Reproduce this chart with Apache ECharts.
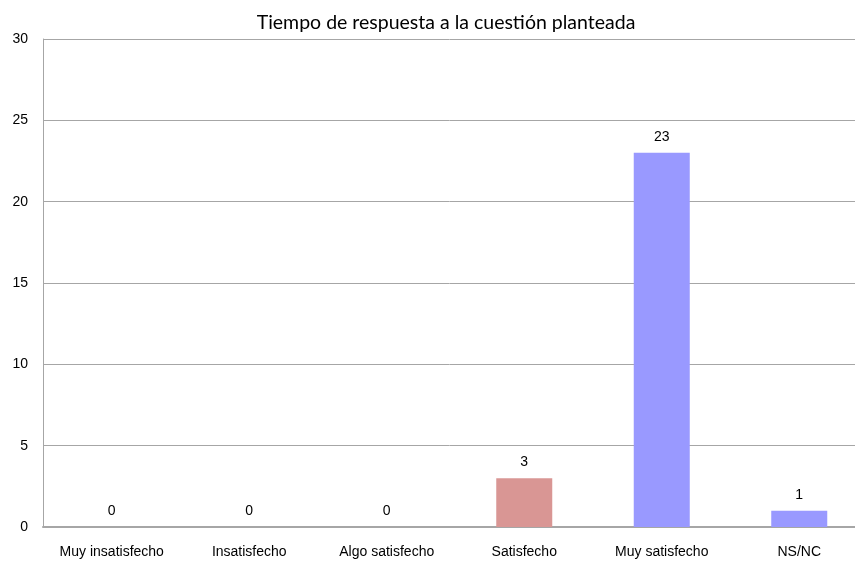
<!DOCTYPE html>
<html>
<head>
<meta charset="utf-8">
<script src="https://cdn.jsdelivr.net/npm/echarts@6/dist/echarts.min.js"></script>
<style>html,body{margin:0;padding:0;background:#fff;}#c{width:855px;height:562px;}</style>
</head>
<body>
<div id="c"></div>
<script>
var categories = ['Muy insatisfecho', 'Insatisfecho', 'Algo satisfecho', 'Satisfecho', 'Muy satisfecho', 'NS/NC'];
var values = [0, 0, 0, 3, 23, 1];
var barColors = ['#9999FF', '#9999FF', '#9999FF', '#D99694', '#9999FF', '#9999FF'];
var yTicks = [0, 5, 10, 15, 20, 25, 30];

var chart = echarts.init(document.getElementById('c'), null, {renderer: 'canvas'});
chart.setOption({
  animation: false,
  backgroundColor: '#fff',
  title: {
    text: 'Tiempo de respuesta a la cuestión planteada',
    left: 441, top: 8, textAlign: 'center',
    textStyle: {fontFamily: 'Lato', fontSize: 19.5, fontWeight: 'normal', color: '#000'}
  },
  grid: {left: 43, top: 39, width: 825, bottom: 35, containLabel: false, outerBoundsMode: 'none'},
  xAxis: {
    type: 'category', data: categories,
    axisLine: {show: true, lineStyle: {color: '#A6A6A6', width: 2}},
    axisTick: {show: false},
    axisLabel: {margin: 18, fontFamily: 'Liberation Sans', fontSize: 14, color: '#000', interval: 0}
  },
  yAxis: {
    type: 'value', min: yTicks[0], max: yTicks[yTicks.length - 1], interval: 5,
    axisLine: {show: true, lineStyle: {color: '#A6A6A6', width: 1}},
    axisTick: {show: false},
    splitLine: {show: true, lineStyle: {color: '#A6A6A6', width: 1}},
    axisLabel: {margin: 15, fontFamily: 'Liberation Sans', fontSize: 14, color: '#000'}
  },
  series: [{
    type: 'bar',
    data: values.map(function (v, i) { return {value: v, itemStyle: {color: barColors[i]}}; }),
    barWidth: 56,
    label: {show: true, position: 'top', distance: 9, fontFamily: 'Liberation Sans', fontSize: 14, color: '#000'}
  }]
});
</script>
</body>
</html>
